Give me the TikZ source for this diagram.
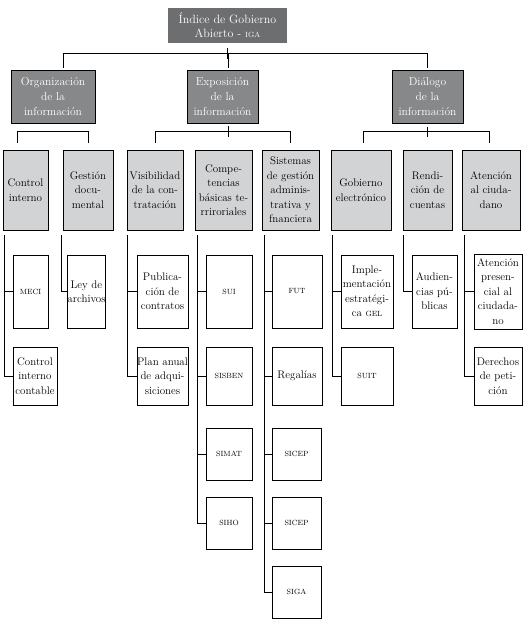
\documentclass[tikz,border=0pt]{standalone}
\usepackage{tikz}
\usetikzlibrary{positioning}
\definecolor{topgray}{HTML}{6D6E70}
\definecolor{midgray}{HTML}{87888A}
\definecolor{softgray}{HTML}{D2D3D5}
\newcommand{\sigla}[1]{{\fontsize{7.5}{9}\selectfont #1}}

\begin{document}
\begin{tikzpicture}[
  x=1pt,y=-1pt,
  every node/.style={inner sep=0pt,align=center,font=\fontsize{11}{14.5}\selectfont},
  topbox/.style={fill=topgray,text=white,minimum width=119pt,minimum height=35pt,font=\fontsize{12}{14}\selectfont},
  axisbox/.style={draw=black,line width=0.8pt,fill=midgray,text=white,minimum height=53pt,font=\fontsize{11.5}{15}\selectfont},
  subbox/.style={draw=black,line width=0.8pt,fill=softgray,minimum height=80pt},
  leafA/.style={draw=black,line width=0.8pt,fill=white,minimum height=73pt},
  leafB/.style={draw=black,line width=0.8pt,fill=white,minimum height=58pt},
  leafC/.style={draw=black,line width=0.8pt,fill=white,minimum height=52pt},
  conn/.style={line width=0.9pt}
]
\useasboundingbox (0,0) rectangle (527,622);

\node[topbox] (iga) at (227.5,25.5) {Índice de Gobierno\\Abierto - \sigla{IGA}};

\node[axisbox,minimum width=84pt] (org) at (53,96.5) {Organización\\de la\\información};
\node[axisbox,minimum width=71pt] (expo) at (222.5,96.5) {Exposición\\de la\\información};
\node[axisbox,minimum width=71pt] (dialogo) at (427.5,96.5) {Diálogo\\de la\\información};

\node[subbox,minimum width=45pt] (ctrl) at (25.5,190) {Control\\interno};
\node[subbox,minimum width=50pt] (gestion) at (88,190) {Gestión\\docu-\\mental};
\node[subbox,minimum width=56pt] (visib) at (155,190) {Visibilidad\\de la con-\\tratación};
\node[subbox,minimum width=57pt] (compet) at (223.5,190) {Compe-\\tencias\\básicas te-\\rriroriales};
\node[subbox,minimum width=57pt] (sistemas) at (290.5,190) {Sistemas\\de gestión\\adminis-\\trativa y\\fnanciera};
\node[subbox,minimum width=60pt] (gobierno) at (361,190) {Gobierno\\electrónico};
\node[subbox,minimum width=49pt] (rendicion) at (427.5,190) {Rendi-\\ción de\\cuentas};
\node[subbox,minimum width=58pt] (atencion) at (491,190) {Atención\\al ciuda-\\dano};

\node[leafA,minimum width=35pt] (meci) at (30.5,291.5) {\sigla{MECI}};
\node[leafA,minimum width=37pt] (ley) at (86.5,291.5) {Ley de\\archivos};
\node[leafA,minimum width=51pt] (publ) at (162.5,291.5) {Publica-\\ción de\\contratos};
\node[leafA,minimum width=46pt] (sui) at (229,291.5) {\sigla{SUI}};
\node[leafA,minimum width=50pt] (fut) at (297,291.5) {\sigla{FUT}};
\node[leafA,minimum width=52pt] (impl) at (367,291.5) {Imple-\\mentación\\estratégi-\\ca \sigla{GEL}};
\node[leafA,minimum width=45pt] (audi) at (434.5,291.5) {Audien-\\cias pú-\\blicas};
\node[leafA,minimum width=48pt,minimum height=75pt] (atpres) at (498,291.5) {Atención\\presen-\\cial al\\ciudada-\\no};

\node[leafB,minimum width=44pt] (cic) at (35,376) {Control\\interno\\contable};
\node[leafB,minimum width=51pt] (plan) at (162.5,376) {Plan anual\\de adqui-\\siciones};
\node[leafB,minimum width=46pt] (sisben) at (229,376) {\sigla{SISBEN}};
\node[leafB,minimum width=50pt] (regalias) at (297,376) {Regalías};
\node[leafB,minimum width=52pt] (suit) at (367,376) {\sigla{SUIT}};
\node[leafB,minimum width=48pt] (derechos) at (498,376) {Derechos\\de peti-\\ción};

\node[leafC,minimum width=46pt] (simat) at (229,454) {\sigla{SIMAT}};
\node[leafC,minimum width=49pt] (sicep) at (296.5,454) {\sigla{SICEP}};
\node[leafC,minimum width=46pt] (siho) at (229,523) {\sigla{SIHO}};
\node[leafC,minimum width=49pt] (sicepb) at (296.5,523) {\sigla{SICEP}};
\node[leafC,minimum width=49pt] (siga) at (296.5,592) {\sigla{SIGA}};

\coordinate (busL) at (63,53);
\coordinate (busR) at (427,53);
\draw[conn] (busL) -- (busR);
\draw[conn] ([yshift=-5pt]iga.south) -- ([yshift=-16pt]iga.south);
\draw[conn] (busL) -- ([yshift=2pt]org.north -| busL);
\draw[conn] ([xshift=5.5pt]expo.north |- busL) -- ([xshift=5.5pt,yshift=2pt]expo.north);
\draw[conn] (busR) -- ([yshift=2pt]dialogo.north -| busR);

\coordinate (orgL) at (17,132);
\draw[conn] ([yshift=7pt]ctrl.north -| orgL) |- ([yshift=18pt]gestion.north) -- ([yshift=7pt]gestion.north);
\draw[conn] ([yshift=7pt]visib.north) |- ([yshift=18pt]sistemas.north) -- ([yshift=7pt]sistemas.north);
\draw[conn] ([xshift=5.5pt,yshift=-3pt]expo.south) -- ([xshift=5.5pt,yshift=-14pt]expo.south);
\draw[conn] ([xshift=2pt,yshift=7pt]gobierno.north) |- ([xshift=-2pt,yshift=18pt]atencion.north) -- ([xshift=-2pt,yshift=7pt]atencion.north);
\draw[conn] ([yshift=-4pt]dialogo.south) -- ([yshift=-14pt]dialogo.south);

\coordinate (tctrl) at (4,235);
\coordinate (tgest) at (61,235);
\coordinate (tvis) at (127,235);
\coordinate (tcomp) at (197,235);
\coordinate (tsis) at (264,235);
\coordinate (tgob) at (332,235);
\coordinate (tren) at (403,235);
\coordinate (tate) at (464,235);
\foreach \trunk/\leaf in {tctrl/meci,tctrl/cic,tgest/ley,tvis/publ,tvis/plan,
    tcomp/sui,tcomp/sisben,tcomp/simat,tcomp/siho,
    tsis/fut,tsis/regalias,tsis/sicep,tsis/sicepb,tsis/siga,
    tgob/impl,tgob/suit,tren/audi,tate/atpres,tate/derechos}
  \draw[conn] (\trunk) |- (\leaf.west);
\end{tikzpicture}
\end{document}
